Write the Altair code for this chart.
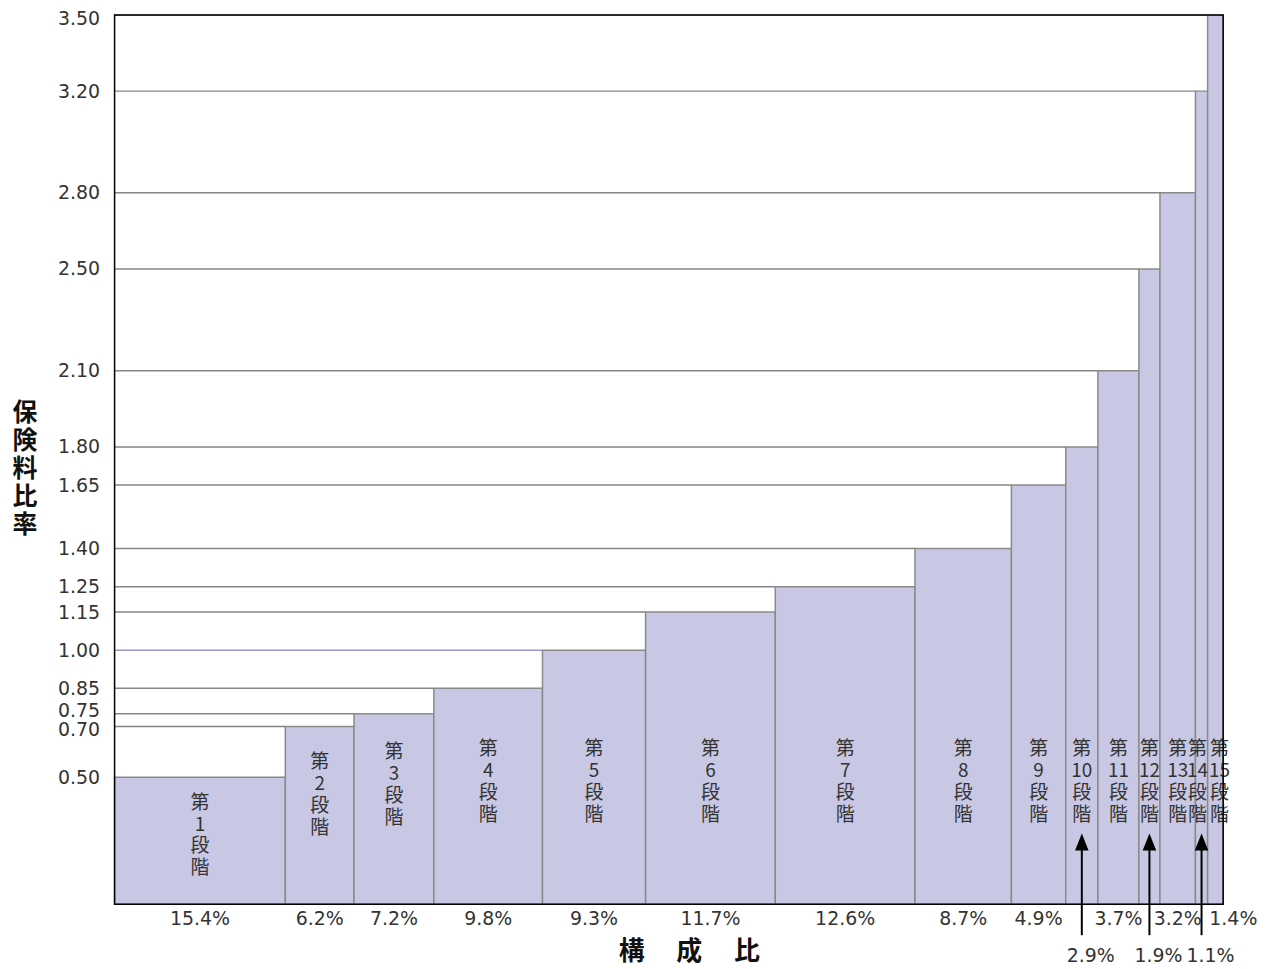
import altair as alt
import pandas as pd

# ---- data ----
stage_nums = [1, 2, 3, 4, 5, 6, 7, 8, 9, 10, 11, 12, 13, 14, 15]
ratios = [0.50, 0.70, 0.75, 0.85, 1.00, 1.15, 1.25, 1.40, 1.65, 1.80, 2.10, 2.50, 2.80, 3.20, 3.50]
shares = [15.4, 6.2, 7.2, 9.8, 9.3, 11.7, 12.6, 8.7, 4.9, 2.9, 3.7, 1.9, 3.2, 1.1, 1.4]
share_labels = ["15.4%", "6.2%", "7.2%", "9.8%", "9.3%", "11.7%", "12.6%", "8.7%",
                "4.9%", "2.9%", "3.7%", "1.9%", "3.2%", "1.1%", "1.4%"]
arrow_stages = [10, 12, 14]
y_ticks = [0.50, 0.70, 0.75, 0.85, 1.00, 1.15, 1.25, 1.40, 1.65, 1.80, 2.10, 2.50, 2.80, 3.20, 3.50]
y_title = "保険料比率"
x_title = "構　 成　 比"

# ---- table ----
rows = []
cum = 0.0
for n, r, s, lab in zip(stage_nums, ratios, shares, share_labels):
    rows.append({
        "stage": n,
        "ratio": r,
        "start": cum,
        "end": cum + s,
        "center": cum + s / 2,
        "zero": 0.0,
        "base": 0.0,
        "label": "第\n" + str(n) + "\n段\n階",
        "label_y": min(r * 0.8, 0.61),
        "pct": lab,
        "arrow": n in arrow_stages,
    })
    cum += s
df = pd.DataFrame(rows)

W, H = 1113, 893
xs = alt.Scale(domain=[0, 100], nice=False, zero=False)
ys = alt.Scale(domain=[0, 3.5], nice=False, zero=True)

base = alt.Chart(df)

label_offset = {
    "condition": [
        {"test": "datum.value == 3.5", "value": 4},
        {"test": "datum.value == 0.75", "value": -3},
        {"test": "datum.value == 0.7", "value": 3},
    ],
    "value": 0,
}

yaxis = alt.Axis(values=y_ticks, format=".2f", domain=False, ticks=False, grid=False,
                 labelFont="DejaVu Sans", labelFontSize=19, labelColor="#333333",
                 labelPadding=15, labelOverlap=False, title=None,
                 labelOffset=label_offset)

bars = base.mark_rect(fill="#C8C8E4", stroke="#8a8a8a", strokeWidth=1.5).encode(
    x=alt.X("start:Q", scale=xs, axis=None),
    x2="end:Q",
    y=alt.Y("ratio:Q", scale=ys, axis=yaxis),
    y2="base:Q",
)

grid = base.mark_rule(strokeWidth=1.5).encode(
    x=alt.X("zero:Q", scale=xs),
    x2="start:Q",
    y=alt.Y("ratio:Q", scale=ys),
    color=alt.condition("datum.ratio == 1", alt.value("#9a9ad0"), alt.value("#858585")),
)

text_style = dict(font="Noto Sans CJK JP", fontSize=19, lineBreak="\n", lineHeight=22,
                  baseline="middle", align="center", color="#333333")
text_enc = dict(x=alt.X("center:Q", scale=xs), y=alt.Y("label_y:Q", scale=ys), text="label:N")

stage_text = base.transform_filter("datum.stage < 14").mark_text(**text_style).encode(**text_enc)
stage_text14 = base.transform_filter("datum.stage == 14").mark_text(dx=-4, **text_style).encode(**text_enc)
stage_text15 = base.transform_filter("datum.stage == 15").mark_text(dx=4, **text_style).encode(**text_enc)

pct_main = base.transform_filter("!datum.arrow && datum.stage != 15").mark_text(
    font="DejaVu Sans", fontSize=19, baseline="middle", align="center", color="#333333"
).encode(x=alt.X("center:Q", scale=xs), y=alt.value(H + 15), text="pct:N")

pct_last = base.transform_filter("datum.stage == 15").mark_text(
    font="DejaVu Sans", fontSize=19, baseline="middle", align="center", color="#333333", dx=18
).encode(x=alt.X("center:Q", scale=xs), y=alt.value(H + 15), text="pct:N")

pct_low = base.transform_filter("datum.arrow").mark_text(
    font="DejaVu Sans", fontSize=19, baseline="middle", align="center", color="#333333", dx=9
).encode(x=alt.X("center:Q", scale=xs), y=alt.value(H + 52), text="pct:N")

arrow_shaft = base.transform_filter("datum.arrow").mark_rule(color="black", strokeWidth=2).encode(
    x=alt.X("center:Q", scale=xs),
    y=alt.datum(0.23, scale=ys),
    y2=alt.value(H + 31),
)

arrow_head = base.transform_filter("datum.arrow").mark_point(
    shape="M0,-1L0.8,1L-0.8,1Z", size=289, filled=True, color="black", opacity=1, strokeWidth=0
).encode(
    x=alt.X("center:Q", scale=xs),
    y=alt.datum(0.245, scale=ys),
)

frame_df = pd.DataFrame({"x0": [0.0], "x1": [100.0], "y0": [0.0], "y1": [3.5]})
frame = alt.Chart(frame_df).mark_rect(fillOpacity=0, stroke="black", strokeWidth=1.5).encode(
    x=alt.X("x0:Q", scale=xs), x2="x1:Q",
    y=alt.Y("y0:Q", scale=ys), y2="y1:Q",
)

ytitle = alt.Chart(frame_df).mark_text(
    text="\n".join(list(y_title)), lineBreak="\n", lineHeight=28, fontSize=25,
    fontWeight="bold", font="Noto Sans CJK JP", color="#111111", baseline="middle", align="center"
).encode(x=alt.value(-90), y=alt.value(400))

xtitle = alt.Chart(frame_df).mark_text(
    text=x_title, fontSize=26, fontWeight="bold", font="Noto Sans CJK JP",
    color="#111111", baseline="middle", align="center"
).encode(x=alt.value(577), y=alt.value(941))

chart = alt.layer(
    bars, grid, stage_text, stage_text14, stage_text15, pct_main, pct_last, pct_low,
    arrow_shaft, arrow_head, frame, ytitle, xtitle
).properties(
    width=W, height=H,
    autosize="none",
    padding={"left": 107, "top": 5, "right": 40, "bottom": 63},
).configure_view(strokeWidth=0)

chart.save("out.html", embed_options={"renderer": "svg", "actions": False})
